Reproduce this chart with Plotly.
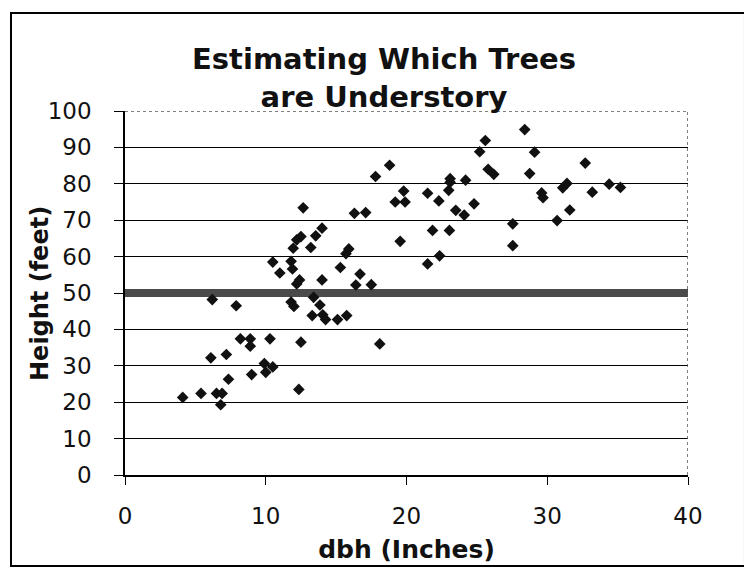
import plotly.graph_objects as go

# dbh (inches) and height (feet)
dbh = [4.1, 5.4, 6.5, 6.9, 6.8, 6.1, 6.2, 7.2, 7.35, 7.9,
       8.2, 8.9, 8.9, 9.0, 9.9, 10.0, 10.3, 10.5, 10.5, 11.0,
       11.8, 11.9, 11.95, 12.2, 12.5, 12.66, 13.2, 13.55, 14.0, 12.2,
       12.4, 14.0, 11.8, 12.0, 13.4, 13.85, 13.3, 14.05, 14.25, 15.1,
       15.75, 12.5, 12.35, 15.3, 15.7, 15.9, 16.4, 16.7, 17.5, 16.3,
       17.1, 17.8, 18.8, 18.1, 19.2, 19.9, 19.8, 19.55, 21.5, 21.5,
       21.85, 22.3, 22.35, 23.0, 23.1, 23.1, 23.05, 23.5, 24.1, 24.2,
       24.8, 25.2, 25.6, 25.8, 26.2, 27.55, 27.55, 28.4, 28.75, 29.1,
       29.6, 29.7, 30.7, 31.1, 31.4, 31.6, 32.7, 33.2, 34.4, 35.2]
height = [21.3, 22.4, 22.4, 22.4, 19.3, 32.2, 48.2, 33.1, 26.3, 46.5,
          37.4, 37.4, 35.4, 27.6, 30.6, 28.2, 37.4, 29.7, 58.5, 55.5,
          58.7, 56.6, 62.3, 64.6, 65.5, 73.4, 62.5, 65.7, 67.8, 52.5,
          53.6, 53.6, 47.5, 46.3, 48.8, 46.7, 43.8, 44.0, 42.7, 42.7,
          43.8, 36.5, 23.5, 57.0, 60.8, 62.1, 52.2, 55.2, 52.3, 71.9,
          72.1, 82.0, 85.1, 36.0, 75.0, 75.0, 78.0, 64.2, 77.4, 58.0,
          67.2, 75.3, 60.2, 78.2, 81.4, 80.4, 67.2, 72.7, 71.4, 81.0,
          74.5, 88.8, 91.9, 84.0, 82.6, 69.0, 63.0, 94.9, 82.8, 88.7,
          77.5, 76.2, 69.9, 78.9, 80.1, 72.8, 85.7, 77.7, 79.9, 79.0]

# understory cut-off line
cutoff_x = [0, 40]
cutoff_y = [50, 50]

FONT = "DejaVu Sans, Verdana, sans-serif"

fig = go.Figure()
fig.add_trace(go.Scatter(x=cutoff_x, y=cutoff_y, mode="lines",
                         line=dict(color="#4a4a4a", width=8),
                         hoverinfo="skip"))
fig.add_trace(go.Scatter(x=dbh, y=height, mode="markers",
                         marker=dict(symbol="diamond", size=9, color="#111111")))

# the page body adds an 8px offset, so margins are set 8px smaller
fig.update_layout(
    width=752, height=569,
    margin=dict(l=117, r=72, t=103, b=102),
    paper_bgcolor="white", plot_bgcolor="white",
    showlegend=False,
    font=dict(family=FONT, color="#111111"),
    title=dict(text="<b>Estimating Which Trees<br>are Understory</b>",
               x=0.5, xanchor="center", y=0.893, yanchor="top",
               yref="container", font=dict(size=29)),
)
fig.update_xaxes(
    range=[0, 40], tickvals=[0, 10, 20, 30, 40],
    showgrid=False, zeroline=False, automargin=False,
    showline=True, linecolor="black", linewidth=1.5,
    ticks="outside", ticklen=8, tickcolor="black",
    ticklabelstandoff=12, tickfont=dict(size=23),
    title=dict(text="<b>dbh (Inches)</b>", font=dict(size=25), standoff=12),
)
fig.update_yaxes(
    range=[0, 100], tickvals=list(range(0, 101, 10)),
    showgrid=True, gridcolor="black", gridwidth=1, zeroline=False,
    automargin=False,
    showline=True, linecolor="black", linewidth=1.5,
    ticks="outside", ticklen=9, tickcolor="black",
    ticklabelstandoff=18, tickfont=dict(size=23),
)

# y-axis title placed by hand, as in the original it sits close to the labels
fig.add_annotation(text="<b>Height (feet)</b>", textangle=-90,
                   xref="paper", yref="paper", x=-0.151, y=0.5,
                   xanchor="center", yanchor="middle",
                   showarrow=False, font=dict(size=24))

# dotted plot-area border on top and right, outer frame around the chart
fig.add_shape(type="line", xref="x", yref="y", x0=0, x1=40, y0=100, y1=100,
              line=dict(color="#555555", width=1.5, dash="dot"))
fig.add_shape(type="line", xref="x", yref="y", x0=40, x1=40, y0=0, y1=100,
              line=dict(color="#555555", width=1.5, dash="dot"))
fig.add_shape(type="rect", xref="paper", yref="paper",
              x0=-0.2025, x1=1.1012, y0=-0.25, y1=1.2692,
              line=dict(color="black", width=2))

fig.write_html("out.html")
